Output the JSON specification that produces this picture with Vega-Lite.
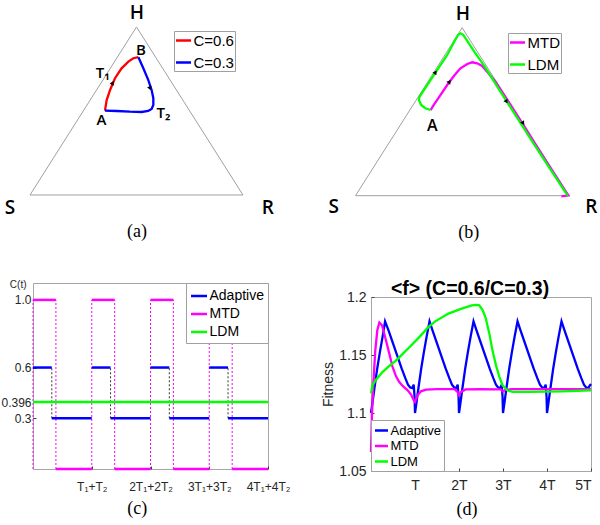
{
"$schema": "https://vega.github.io/schema/vega-lite/v6.json",
"padding": 0,
"columns": 2,
"align": "none",
"spacing": {"row": 28, "column": 30},
"config": {
  "font": "Liberation Sans",
  "view": {"stroke": "#a6a6a6", "strokeWidth": 1},
  "axis": {"labelColor": "#262626", "tickColor": "#404040", "titleColor": "#262626", "grid": false, "domain": false, "titleFontWeight": "normal"}
},
"resolve": {"scale": {"color": "independent"}, "legend": {"color": "independent"}},
"datasets": {
  "tri": [{"x":0,"y":0,"i":0},{"x":1,"y":0,"i":1},{"x":0.5,"y":1,"i":2},{"x":0,"y":0,"i":3}],
  "a_curve": [
    {"c":"C=0.6","i":0,"x":0.352,"y":0.502},{"c":"C=0.6","i":1,"x":0.360,"y":0.565},{"c":"C=0.6","i":2,"x":0.376,"y":0.625},{"c":"C=0.6","i":3,"x":0.399,"y":0.695},{"c":"C=0.6","i":4,"x":0.430,"y":0.754},{"c":"C=0.6","i":5,"x":0.462,"y":0.794},{"c":"C=0.6","i":6,"x":0.485,"y":0.814},{"c":"C=0.6","i":7,"x":0.509,"y":0.820},
    {"c":"C=0.3","i":0,"x":0.509,"y":0.820},{"c":"C=0.3","i":1,"x":0.532,"y":0.754},{"c":"C=0.3","i":2,"x":0.555,"y":0.685},{"c":"C=0.3","i":3,"x":0.571,"y":0.625},{"c":"C=0.3","i":4,"x":0.579,"y":0.576},{"c":"C=0.3","i":5,"x":0.579,"y":0.536},{"c":"C=0.3","i":6,"x":0.571,"y":0.512},{"c":"C=0.3","i":7,"x":0.555,"y":0.500},{"c":"C=0.3","i":8,"x":0.524,"y":0.494},{"c":"C=0.3","i":9,"x":0.469,"y":0.496},{"c":"C=0.3","i":10,"x":0.407,"y":0.500},{"c":"C=0.3","i":11,"x":0.352,"y":0.502}
  ],
  "a_arrow": [{"k":"red","x":0.388,"y":0.668},{"k":"blue","x":0.563,"y":0.635}],
  "a_big": [{"t":"H","x":0.502,"y":1.083},{"t":"S","x":-0.094,"y":-0.077},{"t":"R","x":1.117,"y":-0.077}],
  "a_small": [{"t":"A","x":0.336,"y":0.446},{"t":"B","x":0.521,"y":0.863},{"t":"T₁","x":0.341,"y":0.724},{"t":"T₂","x":0.627,"y":0.488}],
  "b_curve": [
    {"c":"MTD","i":0,"x":0.352,"y":0.510},{"c":"MTD","i":1,"x":0.367,"y":0.540},{"c":"MTD","i":2,"x":0.398,"y":0.599},{"c":"MTD","i":3,"x":0.430,"y":0.659},{"c":"MTD","i":4,"x":0.461,"y":0.712},{"c":"MTD","i":5,"x":0.492,"y":0.758},{"c":"MTD","i":6,"x":0.524,"y":0.784},{"c":"MTD","i":7,"x":0.547,"y":0.794},{"c":"MTD","i":8,"x":0.571,"y":0.788},{"c":"MTD","i":9,"x":0.594,"y":0.772},{"c":"MTD","i":10,"x":0.617,"y":0.738},{"c":"MTD","i":11,"x":0.656,"y":0.679},{"c":"MTD","i":12,"x":0.717,"y":0.560},{"c":"MTD","i":13,"x":0.787,"y":0.421},{"c":"MTD","i":14,"x":0.856,"y":0.282},{"c":"MTD","i":15,"x":0.931,"y":0.133},{"c":"MTD","i":16,"x":0.981,"y":0.034},{"c":"MTD","i":17,"x":0.998,"y":0.002},{"c":"MTD","i":18,"x":0.965,"y":-0.004},
    {"c":"LDM","i":0,"x":0.352,"y":0.510},{"c":"LDM","i":1,"x":0.328,"y":0.520},{"c":"LDM","i":2,"x":0.308,"y":0.540},{"c":"LDM","i":3,"x":0.297,"y":0.570},{"c":"LDM","i":4,"x":0.300,"y":0.589},{"c":"LDM","i":5,"x":0.367,"y":0.718},{"c":"LDM","i":6,"x":0.430,"y":0.838},{"c":"LDM","i":7,"x":0.469,"y":0.931},{"c":"LDM","i":8,"x":0.481,"y":0.957},{"c":"LDM","i":9,"x":0.492,"y":0.967},{"c":"LDM","i":10,"x":0.505,"y":0.958},{"c":"LDM","i":11,"x":0.516,"y":0.937},{"c":"LDM","i":12,"x":0.557,"y":0.857},{"c":"LDM","i":13,"x":0.606,"y":0.768},{"c":"LDM","i":14,"x":0.675,"y":0.629},{"c":"LDM","i":15,"x":0.750,"y":0.480},{"c":"LDM","i":16,"x":0.824,"y":0.332},{"c":"LDM","i":17,"x":0.900,"y":0.183},{"c":"LDM","i":18,"x":0.982,"y":0.024},{"c":"LDM","i":19,"x":0.995,"y":0.0}
  ],
  "b_arrow": [{"k":"g","x":0.375,"y":0.735},{"k":"m","x":0.441,"y":0.679},{"k":"r1","x":0.708,"y":0.560},{"k":"r2","x":0.786,"y":0.431}],
  "b_big": [{"t":"H","x":0.503,"y":1.083},{"t":"S","x":-0.102,"y":-0.07},{"t":"R","x":1.105,"y":-0.07}],
  "b_small": [{"t":"A","x":0.36,"y":0.415}],
  "c_v": [
    {"k":"MTD","x":0,"y":0,"y2":1},{"k":"MTD","x":0.39,"y":0,"y2":1},{"k":"MTD","x":1,"y":0,"y2":1},{"k":"MTD","x":1.39,"y":0,"y2":1},{"k":"MTD","x":2,"y":0,"y2":1},{"k":"MTD","x":2.39,"y":0,"y2":1},{"k":"MTD","x":3,"y":0,"y2":1},{"k":"MTD","x":3.39,"y":0,"y2":1},
    {"k":"Adaptive","x":0.32,"y":0.3,"y2":0.6},{"k":"Adaptive","x":1.32,"y":0.3,"y2":0.6},{"k":"Adaptive","x":2.32,"y":0.3,"y2":0.6},{"k":"Adaptive","x":3.32,"y":0.3,"y2":0.6}
  ],
  "c_seg": [
    {"s":"MTD","x":0,"x2":0.39,"y":1},{"s":"MTD","x":0.39,"x2":1,"y":0},{"s":"MTD","x":1,"x2":1.39,"y":1},{"s":"MTD","x":1.39,"x2":2,"y":0},{"s":"MTD","x":2,"x2":2.39,"y":1},{"s":"MTD","x":2.39,"x2":3,"y":0},{"s":"MTD","x":3,"x2":3.39,"y":1},{"s":"MTD","x":3.39,"x2":4,"y":0},
    {"s":"Adaptive","x":0,"x2":0.32,"y":0.6},{"s":"Adaptive","x":0.32,"x2":1,"y":0.3},{"s":"Adaptive","x":1,"x2":1.32,"y":0.6},{"s":"Adaptive","x":1.32,"x2":2,"y":0.3},{"s":"Adaptive","x":2,"x2":2.32,"y":0.6},{"s":"Adaptive","x":2.32,"x2":3,"y":0.3},{"s":"Adaptive","x":3,"x2":3.32,"y":0.6},{"s":"Adaptive","x":3.32,"x2":4,"y":0.3},
    {"s":"LDM","x":0,"x2":4,"y":0.396}
  ],
  "d_line": [
    {"s":"Adaptive","x":0,"y":1.1},{"s":"Adaptive","x":0.03,"y":1.108},{"s":"Adaptive","x":0.08,"y":1.122},{"s":"Adaptive","x":0.14,"y":1.138},{"s":"Adaptive","x":0.2,"y":1.152},{"s":"Adaptive","x":0.26,"y":1.165},{"s":"Adaptive","x":0.32,"y":1.179},{"s":"Adaptive","x":0.4,"y":1.171},{"s":"Adaptive","x":0.5,"y":1.16},{"s":"Adaptive","x":0.6,"y":1.149},{"s":"Adaptive","x":0.7,"y":1.138},{"s":"Adaptive","x":0.78,"y":1.13},{"s":"Adaptive","x":0.84,"y":1.1245},{"s":"Adaptive","x":0.89,"y":1.122},{"s":"Adaptive","x":0.94,"y":1.1215},{"s":"Adaptive","x":0.97,"y":1.1245},{"s":"Adaptive","x":0.99,"y":1.114},
    {"s":"Adaptive","x":1,"y":1.1},{"s":"Adaptive","x":1.03,"y":1.108},{"s":"Adaptive","x":1.08,"y":1.122},{"s":"Adaptive","x":1.14,"y":1.138},{"s":"Adaptive","x":1.2,"y":1.152},{"s":"Adaptive","x":1.26,"y":1.165},{"s":"Adaptive","x":1.33,"y":1.179},{"s":"Adaptive","x":1.4,"y":1.171},{"s":"Adaptive","x":1.5,"y":1.16},{"s":"Adaptive","x":1.6,"y":1.149},{"s":"Adaptive","x":1.7,"y":1.138},{"s":"Adaptive","x":1.78,"y":1.13},{"s":"Adaptive","x":1.84,"y":1.1245},{"s":"Adaptive","x":1.89,"y":1.122},{"s":"Adaptive","x":1.94,"y":1.1215},{"s":"Adaptive","x":1.97,"y":1.1245},{"s":"Adaptive","x":1.99,"y":1.114},
    {"s":"Adaptive","x":2,"y":1.1},{"s":"Adaptive","x":2.03,"y":1.108},{"s":"Adaptive","x":2.08,"y":1.122},{"s":"Adaptive","x":2.14,"y":1.138},{"s":"Adaptive","x":2.2,"y":1.152},{"s":"Adaptive","x":2.26,"y":1.165},{"s":"Adaptive","x":2.33,"y":1.179},{"s":"Adaptive","x":2.4,"y":1.171},{"s":"Adaptive","x":2.5,"y":1.16},{"s":"Adaptive","x":2.6,"y":1.149},{"s":"Adaptive","x":2.7,"y":1.138},{"s":"Adaptive","x":2.78,"y":1.13},{"s":"Adaptive","x":2.84,"y":1.1245},{"s":"Adaptive","x":2.89,"y":1.122},{"s":"Adaptive","x":2.94,"y":1.1215},{"s":"Adaptive","x":2.97,"y":1.1245},{"s":"Adaptive","x":2.99,"y":1.114},
    {"s":"Adaptive","x":3,"y":1.1},{"s":"Adaptive","x":3.03,"y":1.108},{"s":"Adaptive","x":3.08,"y":1.122},{"s":"Adaptive","x":3.14,"y":1.138},{"s":"Adaptive","x":3.2,"y":1.152},{"s":"Adaptive","x":3.26,"y":1.165},{"s":"Adaptive","x":3.33,"y":1.179},{"s":"Adaptive","x":3.4,"y":1.171},{"s":"Adaptive","x":3.5,"y":1.16},{"s":"Adaptive","x":3.6,"y":1.149},{"s":"Adaptive","x":3.7,"y":1.138},{"s":"Adaptive","x":3.78,"y":1.13},{"s":"Adaptive","x":3.84,"y":1.1245},{"s":"Adaptive","x":3.89,"y":1.122},{"s":"Adaptive","x":3.94,"y":1.1215},{"s":"Adaptive","x":3.97,"y":1.1245},{"s":"Adaptive","x":3.99,"y":1.114},
    {"s":"Adaptive","x":4,"y":1.1},{"s":"Adaptive","x":4.03,"y":1.108},{"s":"Adaptive","x":4.08,"y":1.122},{"s":"Adaptive","x":4.14,"y":1.138},{"s":"Adaptive","x":4.2,"y":1.152},{"s":"Adaptive","x":4.26,"y":1.165},{"s":"Adaptive","x":4.33,"y":1.179},{"s":"Adaptive","x":4.4,"y":1.171},{"s":"Adaptive","x":4.5,"y":1.16},{"s":"Adaptive","x":4.6,"y":1.149},{"s":"Adaptive","x":4.7,"y":1.138},{"s":"Adaptive","x":4.78,"y":1.13},{"s":"Adaptive","x":4.84,"y":1.1245},{"s":"Adaptive","x":4.89,"y":1.122},{"s":"Adaptive","x":4.94,"y":1.1215},{"s":"Adaptive","x":4.97,"y":1.1235},{"s":"Adaptive","x":5,"y":1.125},
    {"s":"MTD","x":0,"y":1.0664},{"s":"MTD","x":0.02,"y":1.0966},{"s":"MTD","x":0.052,"y":1.1253},{"s":"MTD","x":0.098,"y":1.154},{"s":"MTD","x":0.143,"y":1.1713},{"s":"MTD","x":0.19,"y":1.178},{"s":"MTD","x":0.25,"y":1.1756},{"s":"MTD","x":0.34,"y":1.1627},{"s":"MTD","x":0.416,"y":1.1512},{"s":"MTD","x":0.49,"y":1.1397},{"s":"MTD","x":0.568,"y":1.1316},{"s":"MTD","x":0.643,"y":1.1267},{"s":"MTD","x":0.72,"y":1.1233},{"s":"MTD","x":0.833,"y":1.1196},{"s":"MTD","x":0.91,"y":1.1159},{"s":"MTD","x":0.97,"y":1.111},{"s":"MTD","x":1.0,"y":1.1095},{"s":"MTD","x":1.06,"y":1.1153},{"s":"MTD","x":1.135,"y":1.1187},{"s":"MTD","x":1.25,"y":1.1202},{"s":"MTD","x":1.5,"y":1.1205},{"s":"MTD","x":1.9,"y":1.1205},{"s":"MTD","x":1.97,"y":1.118},{"s":"MTD","x":2.0,"y":1.1155},{"s":"MTD","x":2.04,"y":1.118},{"s":"MTD","x":2.15,"y":1.1203},{"s":"MTD","x":2.5,"y":1.1205},{"s":"MTD","x":2.95,"y":1.1203},{"s":"MTD","x":3.0,"y":1.1185},{"s":"MTD","x":3.05,"y":1.12},{"s":"MTD","x":3.2,"y":1.1205},{"s":"MTD","x":4.0,"y":1.1205},{"s":"MTD","x":5.0,"y":1.1205},
    {"s":"LDM","x":0,"y":1.117},{"s":"LDM","x":0.037,"y":1.1239},{"s":"LDM","x":0.11,"y":1.1285},{"s":"LDM","x":0.26,"y":1.1353},{"s":"LDM","x":0.41,"y":1.1403},{"s":"LDM","x":0.56,"y":1.1449},{"s":"LDM","x":0.71,"y":1.1505},{"s":"LDM","x":0.86,"y":1.1562},{"s":"LDM","x":1.01,"y":1.162},{"s":"LDM","x":1.16,"y":1.168},{"s":"LDM","x":1.3,"y":1.174},{"s":"LDM","x":1.46,"y":1.179},{"s":"LDM","x":1.76,"y":1.1857},{"s":"LDM","x":2.06,"y":1.19},{"s":"LDM","x":2.29,"y":1.1928},{"s":"LDM","x":2.4,"y":1.1932},{"s":"LDM","x":2.46,"y":1.1928},{"s":"LDM","x":2.54,"y":1.1885},{"s":"LDM","x":2.61,"y":1.1814},{"s":"LDM","x":2.69,"y":1.1684},{"s":"LDM","x":2.76,"y":1.154},{"s":"LDM","x":2.84,"y":1.1411},{"s":"LDM","x":2.92,"y":1.131},{"s":"LDM","x":2.99,"y":1.1239},{"s":"LDM","x":3.1,"y":1.1196},{"s":"LDM","x":3.22,"y":1.1182},{"s":"LDM","x":3.6,"y":1.1182},{"s":"LDM","x":4.36,"y":1.1187},{"s":"LDM","x":5.0,"y":1.1196}
  ]
},
"concat": [
  {
    "width": 250, "height": 250, "view": {"stroke": null},
    "encoding": {
      "x": {"field": "x", "type": "quantitative", "scale": {"domain": [0.0141, 1.1878], "nice": false, "zero": false}, "axis": null},
      "y": {"field": "y", "type": "quantitative", "scale": {"domain": [-0.3274, 1.1607], "nice": false, "zero": false}, "axis": null}
    },
    "layer": [
      {"data": {"name": "tri"}, "mark": {"type": "line", "color": "#a0a0a0", "strokeWidth": 1}, "encoding": {"order": {"field": "i"}}},
      {"data": {"name": "a_curve"}, "mark": {"type": "line", "strokeWidth": 2.3},
       "encoding": {"order": {"field": "i"},
         "color": {"field": "c", "type": "nominal", "scale": {"domain": ["C=0.6", "C=0.3"], "range": ["#ff0000", "#0000ff"]},
           "legend": {"orient": "none", "legendX": 141, "legendY": 31, "title": null, "symbolType": "stroke", "symbolSize": 225, "symbolStrokeWidth": 2.5, "labelFontSize": 15, "labelColor": "#000000", "rowPadding": 5, "padding": 0.5, "labelOffset": 1, "strokeColor": "#a0a0a0", "fillColor": "#ffffff"}}}},
      {"data": {"name": "a_arrow"}, "transform": [{"filter": "datum.k == 'red'"}], "mark": {"type": "point", "shape": "triangle-up", "filled": true, "color": "#000000", "opacity": 1, "size": 22, "angle": 28}},
      {"data": {"name": "a_arrow"}, "transform": [{"filter": "datum.k == 'blue'"}], "mark": {"type": "point", "shape": "triangle-up", "filled": true, "color": "#000000", "opacity": 1, "size": 22, "angle": 161}},
      {"data": {"name": "a_big"}, "mark": {"type": "text", "font": "Open Sans", "fontWeight": 600, "fontSize": 19, "align": "center", "baseline": "middle", "color": "#000000"}, "encoding": {"text": {"field": "t"}}},
      {"data": {"name": "a_small"}, "mark": {"type": "text", "font": "Open Sans", "fontWeight": 600, "fontSize": 15, "align": "center", "baseline": "middle", "color": "#000000"}, "encoding": {"text": {"field": "t"}}},
      {"data": {"values": [{"t": "(a)", "x": 0.502, "y": -0.22}]}, "mark": {"type": "text", "font": "Liberation Serif", "fontSize": 18, "align": "center", "baseline": "middle", "color": "#000000"}, "encoding": {"text": {"field": "t"}}}
    ]
  },
  {
    "width": 274, "height": 250, "view": {"stroke": null},
    "encoding": {
      "x": {"field": "x", "type": "quantitative", "scale": {"domain": [-0.1617, 1.1228], "nice": false, "zero": false}, "axis": null},
      "y": {"field": "y", "type": "quantitative", "scale": {"domain": [-0.3232, 1.1649], "nice": false, "zero": false}, "axis": null}
    },
    "layer": [
      {"data": {"name": "tri"}, "mark": {"type": "line", "color": "#a0a0a0", "strokeWidth": 1}, "encoding": {"order": {"field": "i"}}},
      {"data": {"name": "b_curve"}, "mark": {"type": "line", "strokeWidth": 2.3},
       "encoding": {"order": {"field": "i"},
         "color": {"field": "c", "type": "nominal", "scale": {"domain": ["MTD", "LDM"], "range": ["#ff00ff", "#00ff00"]},
           "legend": {"orient": "none", "legendX": 187, "legendY": 33, "title": null, "symbolType": "stroke", "symbolSize": 225, "symbolStrokeWidth": 2.5, "labelFontSize": 15, "labelColor": "#000000", "rowPadding": 5, "padding": 0.5, "labelOffset": 1, "strokeColor": "#a0a0a0", "fillColor": "#ffffff"}}}},
      {"data": {"name": "b_arrow"}, "transform": [{"filter": "datum.k == 'g'"}], "mark": {"type": "point", "shape": "triangle-up", "filled": true, "color": "#000000", "opacity": 1, "size": 22, "angle": 32}},
      {"data": {"name": "b_arrow"}, "transform": [{"filter": "datum.k == 'm'"}], "mark": {"type": "point", "shape": "triangle-up", "filled": true, "color": "#000000", "opacity": 1, "size": 22, "angle": 37}},
      {"data": {"name": "b_arrow"}, "transform": [{"filter": "datum.k == 'r1' || datum.k == 'r2'"}], "mark": {"type": "point", "shape": "triangle-up", "filled": true, "color": "#000000", "opacity": 1, "size": 22, "angle": 148}},
      {"data": {"name": "b_big"}, "mark": {"type": "text", "font": "Open Sans", "fontWeight": 600, "fontSize": 19, "align": "center", "baseline": "middle", "color": "#000000"}, "encoding": {"text": {"field": "t"}}},
      {"data": {"name": "b_small"}, "mark": {"type": "text", "font": "Open Sans", "fontWeight": 600, "fontSize": 16, "align": "center", "baseline": "middle", "color": "#000000"}, "encoding": {"text": {"field": "t"}}},
      {"data": {"values": [{"t": "(b)", "x": 0.531, "y": -0.224}]}, "mark": {"type": "text", "font": "Liberation Serif", "fontSize": 18, "align": "center", "baseline": "middle", "color": "#000000"}, "encoding": {"text": {"field": "t"}}}
    ]
  },
  {
    "width": 235, "height": 186,
    "encoding": {
      "x": {"field": "x", "type": "quantitative", "scale": {"domain": [0, 4], "nice": false, "zero": false},
            "axis": {"values": [1, 2, 3, 4], "labelExpr": "datum.value == 1 ? 'T₁+T₂' : datum.value + 'T₁+' + datum.value + 'T₂'", "title": null, "tickSize": -3, "labelPadding": 15, "labelFontSize": 12, "labelFlush": false}},
      "y": {"field": "y", "type": "quantitative", "scale": {"domain": [0, 1.1], "nice": false, "zero": false},
            "axis": {"values": [0.3, 0.396, 0.6, 1], "format": ".3~f", "labelExpr": "datum.value == 1 ? '1.0' : datum.label", "title": "C(t)", "titleAngle": 0, "titleAlign": "right", "titleBaseline": "middle", "titleX": -7, "titleY": 1, "titleFontSize": 10, "tickSize": -3, "labelPadding": 5, "labelFontSize": 12}}
    },
    "layer": [
      {"data": {"name": "c_v"}, "transform": [{"filter": "datum.k == 'MTD'"}], "mark": {"type": "rule", "color": "#ff00ff", "strokeDash": [2, 2], "strokeWidth": 1}, "encoding": {"y2": {"field": "y2"}}},
      {"data": {"name": "c_v"}, "transform": [{"filter": "datum.k == 'Adaptive'"}], "mark": {"type": "rule", "color": "#333333", "strokeDash": [2, 2], "strokeWidth": 1}, "encoding": {"y2": {"field": "y2"}}},
      {"data": {"name": "c_seg"}, "mark": {"type": "rule", "strokeWidth": 2.5},
       "encoding": {"x2": {"field": "x2"},
         "color": {"field": "s", "type": "nominal", "scale": {"domain": ["Adaptive", "MTD", "LDM"], "range": ["#0000ff", "#ff00ff", "#00ff00"]},
           "legend": {"orient": "top-right", "offset": 0, "title": null, "symbolType": "stroke", "symbolSize": 256, "symbolStrokeWidth": 2.5, "labelFontSize": 14, "labelColor": "#000000", "rowPadding": 1, "padding": 3.5, "labelOffset": 1, "strokeColor": "#a0a0a0", "fillColor": "#ffffff"}}}},
      {"data": {"values": [{"t": "(c)", "x": 1.776, "y": -0.236}]}, "mark": {"type": "text", "font": "Liberation Serif", "fontSize": 18, "align": "center", "baseline": "middle", "color": "#000000"}, "encoding": {"text": {"field": "t"}}}
    ]
  },
  {
    "width": 220, "height": 174,
    "title": {"text": "<f> (C=0.6/C=0.3)", "fontSize": 19.5, "fontWeight": "bold", "offset": -9, "dx": -11, "frame": "group", "color": "#000000"},
    "encoding": {
      "x": {"field": "x", "type": "quantitative", "scale": {"domain": [0, 5], "nice": false, "zero": false},
            "axis": {"values": [1, 2, 3, 4, 5], "labelExpr": "datum.value == 1 ? 'T' : datum.value + 'T'", "title": null, "tickSize": -3, "labelPadding": 10, "labelFontSize": 14, "labelFlush": true}},
      "y": {"field": "y", "type": "quantitative", "scale": {"domain": [1.05, 1.2], "nice": false, "zero": false},
            "axis": {"values": [1.05, 1.1, 1.15, 1.2], "format": ".2~f", "title": "Fitness", "titleFontSize": 14, "titlePadding": 3, "tickSize": -3, "labelPadding": 8, "labelFontSize": 14}}
    },
    "layer": [
      {"data": {"name": "d_line"}, "mark": {"type": "line", "strokeWidth": 2.3},
       "encoding": {
         "color": {"field": "s", "type": "nominal", "scale": {"domain": ["Adaptive", "MTD", "LDM"], "range": ["#0000ff", "#ff00ff", "#00ff00"]},
           "legend": {"orient": "bottom-left", "offset": 0, "title": null, "symbolType": "stroke", "symbolSize": 169, "symbolStrokeWidth": 2.5, "labelFontSize": 13, "labelColor": "#000000", "rowPadding": 0.5, "padding": 2.5, "labelOffset": 1, "strokeColor": "#a0a0a0", "fillColor": "#ffffff"}}}},
      {"data": {"values": [{"t": "(d)", "x": 2.18, "y": 1.0164}]}, "mark": {"type": "text", "font": "Liberation Serif", "fontSize": 18, "align": "center", "baseline": "middle", "color": "#000000"}, "encoding": {"text": {"field": "t"}}}
    ]
  }
]
}
